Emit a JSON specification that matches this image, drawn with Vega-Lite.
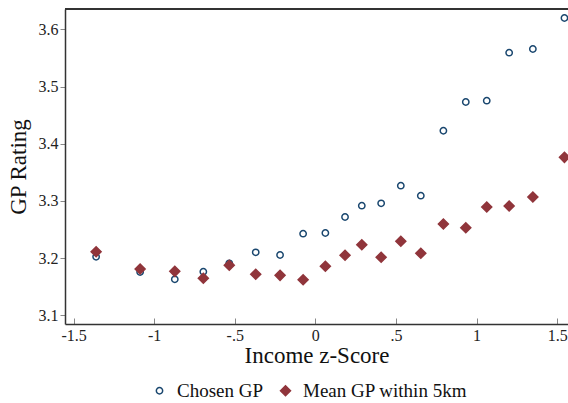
{
  "$schema": "https://vega.github.io/schema/vega-lite/v6.json",
  "width": 503,
  "height": 315,
  "autosize": {"type": "none"},
  "padding": {"left": 65, "top": 9, "right": 0, "bottom": 79},
  "background": "white",
  "config": {
    "view": {"stroke": null},
    "font": "Liberation Serif",
    "axis": {"grid": false, "domainColor": "#333333", "domainWidth": 1.5, "labelFont": "Liberation Serif", "titleFont": "Liberation Serif", "labelFontSize": 16, "titleFontSize": 23, "titleFontWeight": "normal", "labelColor": "#222222", "titleColor": "#111111", "tickColor": "#888888"},
    "legend": {"labelFont": "Liberation Serif", "labelFontSize": 19, "labelColor": "#111111", "labelLimit": 400}
  },
  "data": {"values": [
    {"x": -1.360, "y": 3.2024, "s": "Chosen GP"},
    {"x": -1.087, "y": 3.1757, "s": "Chosen GP"},
    {"x": -0.872, "y": 3.1629, "s": "Chosen GP"},
    {"x": -0.695, "y": 3.1762, "s": "Chosen GP"},
    {"x": -0.534, "y": 3.1909, "s": "Chosen GP"},
    {"x": -0.370, "y": 3.2101, "s": "Chosen GP"},
    {"x": -0.219, "y": 3.2054, "s": "Chosen GP"},
    {"x": -0.076, "y": 3.2427, "s": "Chosen GP"},
    {"x": 0.062, "y": 3.2439, "s": "Chosen GP"},
    {"x": 0.184, "y": 3.2719, "s": "Chosen GP"},
    {"x": 0.288, "y": 3.2916, "s": "Chosen GP"},
    {"x": 0.408, "y": 3.2958, "s": "Chosen GP"},
    {"x": 0.530, "y": 3.3266, "s": "Chosen GP"},
    {"x": 0.654, "y": 3.3091, "s": "Chosen GP"},
    {"x": 0.794, "y": 3.4227, "s": "Chosen GP"},
    {"x": 0.933, "y": 3.4729, "s": "Chosen GP"},
    {"x": 1.063, "y": 3.4752, "s": "Chosen GP"},
    {"x": 1.202, "y": 3.5591, "s": "Chosen GP"},
    {"x": 1.349, "y": 3.5656, "s": "Chosen GP"},
    {"x": 1.545, "y": 3.6198, "s": "Chosen GP"},
    {"x": -1.360, "y": 3.2112, "s": "Mean GP within 5km"},
    {"x": -1.087, "y": 3.1809, "s": "Mean GP within 5km"},
    {"x": -0.872, "y": 3.1769, "s": "Mean GP within 5km"},
    {"x": -0.695, "y": 3.1647, "s": "Mean GP within 5km"},
    {"x": -0.534, "y": 3.1874, "s": "Mean GP within 5km"},
    {"x": -0.370, "y": 3.1717, "s": "Mean GP within 5km"},
    {"x": -0.219, "y": 3.1699, "s": "Mean GP within 5km"},
    {"x": -0.076, "y": 3.1622, "s": "Mean GP within 5km"},
    {"x": 0.062, "y": 3.1857, "s": "Mean GP within 5km"},
    {"x": 0.184, "y": 3.2049, "s": "Mean GP within 5km"},
    {"x": 0.288, "y": 3.2234, "s": "Mean GP within 5km"},
    {"x": 0.408, "y": 3.2014, "s": "Mean GP within 5km"},
    {"x": 0.530, "y": 3.2294, "s": "Mean GP within 5km"},
    {"x": 0.654, "y": 3.2084, "s": "Mean GP within 5km"},
    {"x": 0.794, "y": 3.2596, "s": "Mean GP within 5km"},
    {"x": 0.933, "y": 3.2531, "s": "Mean GP within 5km"},
    {"x": 1.063, "y": 3.2893, "s": "Mean GP within 5km"},
    {"x": 1.202, "y": 3.2911, "s": "Mean GP within 5km"},
    {"x": 1.349, "y": 3.3068, "s": "Mean GP within 5km"},
    {"x": 1.545, "y": 3.3762, "s": "Mean GP within 5km"}
  ]},
  "layer": [
    {
      "mark": {"type": "rule", "color": "#333333", "strokeWidth": 1.5},
      "encoding": {"y": {"datum": 3.6355, "type": "quantitative"}}
    },
    {
      "mark": {"type": "point", "strokeWidth": 1.5, "opacity": 1},
      "encoding": {
        "x": {"field": "x", "type": "quantitative", "title": "Income z-Score",
              "scale": {"domain": [-1.553, 1.567], "nice": false, "zero": false},
              "axis": {"values": [-1.5, -1, -0.5, 0, 0.5, 1, 1.5], "tickSize": -6, "labelPadding": 9, "titlePadding": 1, "labelExpr": "replace(toString(datum.value), '0.', '.')"}},
        "y": {"field": "y", "type": "quantitative", "title": "GP Rating",
              "scale": {"domain": [3.0848, 3.6355], "nice": false, "zero": false},
              "axis": {"values": [3.1, 3.2, 3.3, 3.4, 3.5, 3.6], "tickSize": 5, "labelPadding": 2, "titlePadding": 8, "format": ".1f"}},
        "shape": {"field": "s", "type": "nominal", "title": null,
                  "scale": {"domain": ["Chosen GP", "Mean GP within 5km"], "range": ["circle", "diamond"]},
                  "legend": {"orient": "none", "direction": "horizontal", "legendX": 85, "legendY": 372, "columnPadding": 12, "symbolStrokeWidth": 1.5, "labelOffset": 8}},
        "stroke": {"field": "s", "type": "nominal", "title": null,
                   "scale": {"domain": ["Chosen GP", "Mean GP within 5km"], "range": ["#1a476f", "#90353b"]}},
        "fill": {"field": "s", "type": "nominal", "title": null,
                 "scale": {"domain": ["Chosen GP", "Mean GP within 5km"], "range": ["#ffffff", "#90353b"]}},
        "size": {"field": "s", "type": "nominal", "title": null,
                 "scale": {"domain": ["Chosen GP", "Mean GP within 5km"], "range": [40, 100]}}
      }
    }
  ]
}
